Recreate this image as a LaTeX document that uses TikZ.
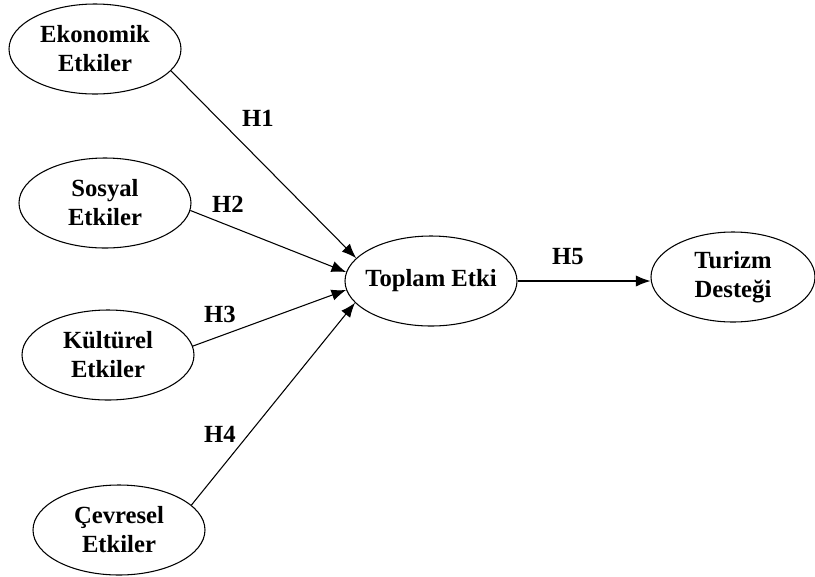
\documentclass[tikz,border=0pt]{standalone}
\usepackage{fontspec}
\setmainfont{Liberation Serif}
\usetikzlibrary{shapes.geometric,arrows.meta}
\begin{document}
\begin{tikzpicture}[x=0.75pt,y=-0.75pt,
  construct/.style={draw, ellipse, line width=0.8pt, inner sep=0pt,
    minimum width=129pt, minimum height=67.5pt, align=center,
    font=\fontsize{18.5}{21.75}\selectfont\bfseries},
  hlabel/.style={font=\fontsize{18.5}{21.75}\selectfont\bfseries, inner sep=1pt},
  link/.style={line width=0.8pt, -{Latex[length=11pt,width=8.5pt]}}]
\useasboundingbox (0,0) rectangle (815,576);
\node[construct] (eko) at (95,49) {Ekonomik\\Etkiler};
\node[construct] (sos) at (105,203) {Sosyal\\Etkiler};
\node[construct] (kul) at (108,355) {Kültürel\\Etkiler};
\node[construct] (cev) at (119,530) {Çevresel\\Etkiler};
\node[construct, inner xsep=-6pt] (top) at (431,281) {Toplam Etki};
\node[construct, minimum width=123pt] (tur) at (733,277) {Turizm\\Desteği};
\draw[link] (eko.-16) -- (top.163);
\draw[link] (sos.-5) -- (top.174);
\draw[link] (kul.6) -- (top.186);
\draw[link] (cev.19) -- (top.196);
\draw[link] (top.east) -- (top.east -| tur.west);
\node[hlabel] (h1) at (258,118) {H1};
\node[hlabel] (h2) at (228,204) {H2};
\node[hlabel] (h3) at (220,314) {H3};
\node[hlabel] (h4) at (220,434) {H4};
\node[hlabel] (h5) at (568,257) {H5};
\end{tikzpicture}
\end{document}
